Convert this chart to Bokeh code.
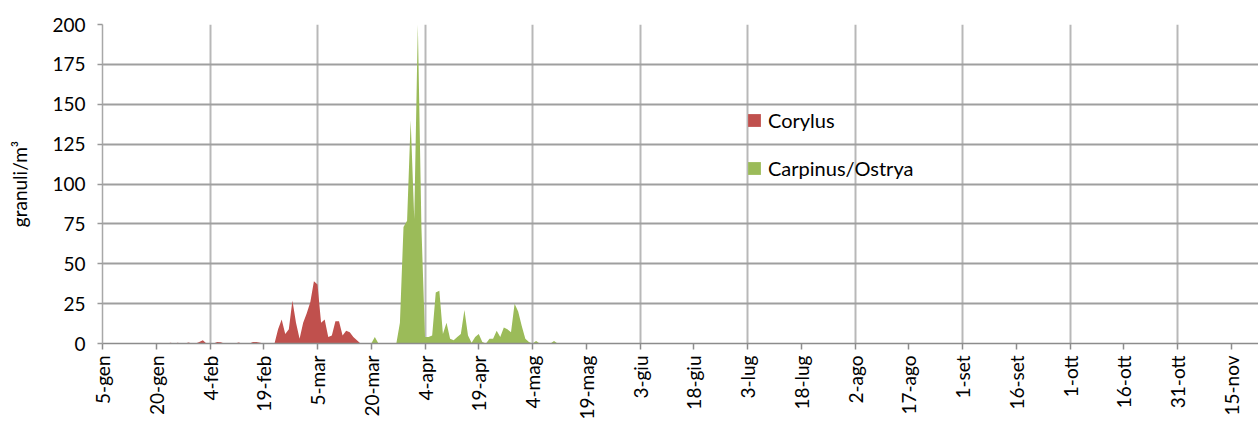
import math
from bokeh.plotting import figure
from bokeh.models import FixedTicker, Range1d, Legend, LegendItem
from bokeh.embed import file_html
from bokeh.resources import INLINE

# day offsets from 5-gen (leap year, daily data)
tick_labels = ["5-gen", "20-gen", "4-feb", "19-feb", "5-mar", "20-mar", "4-apr",
               "19-apr", "4-mag", "19-mag", "3-giu", "18-giu", "3-lug", "18-lug",
               "2-ago", "17-ago", "1-set", "16-set", "1-ott", "16-ott", "31-ott", "15-nov"]

corylus = [
    0, 0, 0, 0, 0, 0, 0, 0, 0, 0,          # 0-9
    0, 0, 0, 0, 0, 0, 0, 0, 0, 0.5,        # 10-19
    0, 0.5, 0, 0, 0.7, 0, 0, 1, 2, 0,      # 20-29
    0, 0, 1, 0.8, 0, 0, 0, 0, 0.6, 0,      # 30-39
    0, 0, 1, 1, 0.5, 0, 0, 0, 0, 9,        # 40-49
    15, 6, 9, 27, 13, 3, 13, 19, 26, 39,   # 50-59
    37, 13, 15, 4, 5, 14, 14, 5, 8, 7,     # 60-69
    4, 2, 0, 0, 0, 0, 0, 0, 0, 0,          # 70-79
    0, 0, 0, 0, 0, 0, 0, 0, 0, 0,          # 80-89
    0, 0, 0, 0, 0, 0, 0, 0, 0, 0,          # 90-99
    0, 0, 0, 0, 0, 0, 0, 0, 0, 0,          # 100-109
    0, 0, 0, 0, 0, 0, 0, 0, 0, 0,          # 110-119
    0, 0, 0, 0, 0, 0, 0, 0, 0, 0,          # 120-129
]

carpinus = [
    0, 0, 0, 0, 0, 0, 0, 0, 0, 0,          # 0-9
    0, 0, 0, 0, 0, 0, 0, 0, 0, 0,          # 10-19
    0, 0, 0, 0, 0, 0, 0, 0, 0, 0,          # 20-29
    0, 0, 0, 0, 0, 0, 0, 0, 0, 0,          # 30-39
    0, 0, 0, 0, 0, 0, 0, 0, 0, 0,          # 40-49
    0, 0, 0, 0, 0, 0, 0, 0, 0, 0,          # 50-59
    0, 0, 0, 0, 0, 0, 0, 0, 0, 0,          # 60-69
    0, 0, 0, 0, 0, 0, 4, 0, 0, 0,          # 70-79
    0, 0, 0, 13, 73, 77, 140, 78, 200, 73, # 80-89
    4, 4, 5, 32, 33, 6, 13, 3, 2, 4,       # 90-99
    6, 21, 5, 0.5, 4, 6, 1, 0, 3, 3,       # 100-109
    8, 4, 10, 9, 7, 25, 20, 11, 3, 1,      # 110-119
    0, 1.5, 0, 0, 0, 0, 1.5, 0, 0, 0,      # 120-129
]

days = list(range(len(corylus)))
tick_days = [15 * k for k in range(len(tick_labels))]
grid_days = [30 * k for k in range(11)]

FONT = "Lato"

p = figure(width=1258, height=422, output_backend="svg", toolbar_location=None,
           x_range=Range1d(0, 322.6), y_range=Range1d(0, 200),
           min_border_left=102, min_border_right=0, min_border_top=24,
           min_border_bottom=78)
p.outline_line_color = None
p.background_fill_color = "white"

r1 = p.varea(x=days, y1=0, y2=corylus, fill_color="#C0504D", fill_alpha=1)
r2 = p.varea(x=days, y1=0, y2=carpinus, fill_color="#9BBB59", fill_alpha=1)

# x axis
xa = p.xaxis[0]
xa.ticker = FixedTicker(ticks=tick_days)
xa.major_label_overrides = {d: lab for d, lab in zip(tick_days, tick_labels)}
xa.major_label_orientation = math.pi / 2
xa.major_tick_in = 0
xa.major_tick_out = 6
xa.minor_tick_line_color = None
xa.major_tick_line_color = "#8c8c8c"
xa.major_tick_line_width = 1.5
xa.axis_line_color = "#8c8c8c"
xa.axis_line_width = 1.5
xa.major_label_standoff = 6
xa.major_label_text_font = FONT
xa.major_label_text_font_size = "19px"
xa.major_label_text_color = "#000000"

# y axis
ya = p.yaxis[0]
ya.ticker = FixedTicker(ticks=[0, 25, 50, 75, 100, 125, 150, 175, 200])
ya.major_tick_in = 0
ya.major_tick_out = 5
ya.minor_tick_line_color = None
ya.major_tick_line_color = "#9a9a9a"
ya.major_tick_line_width = 1.5
ya.axis_line_color = "#a8a8a8"
ya.axis_line_width = 1.5
ya.major_label_standoff = 12
ya.major_label_text_font = FONT
ya.major_label_text_font_size = "19px"
ya.major_label_text_color = "#000000"
ya.axis_label = "granuli/m³"
ya.axis_label_text_font = FONT
ya.axis_label_text_font_size = "19px"
ya.axis_label_text_font_style = "normal"
ya.axis_label_text_color = "#000000"
ya.axis_label_standoff = 18

# grids
p.xgrid.ticker = FixedTicker(ticks=grid_days)
p.xgrid.grid_line_color = "#b8b8b8"
p.xgrid.grid_line_width = 2
p.ygrid.grid_line_color = "#9f9f9f"
p.ygrid.grid_line_width = 2

legend = Legend(items=[LegendItem(label="Corylus", renderers=[r1]),
                       LegendItem(label="Carpinus/Ostrya", renderers=[r2])],
                location=(644, 162), orientation="vertical",
                spacing=22, padding=0, margin=0,
                glyph_width=16, glyph_height=16, label_height=26,
                label_standoff=6, label_text_font=FONT,
                label_text_font_size="20px", label_text_color="#000000",
                border_line_color=None, background_fill_alpha=0)
p.add_layout(legend)

open("out.html", "w").write(file_html(p, INLINE))
